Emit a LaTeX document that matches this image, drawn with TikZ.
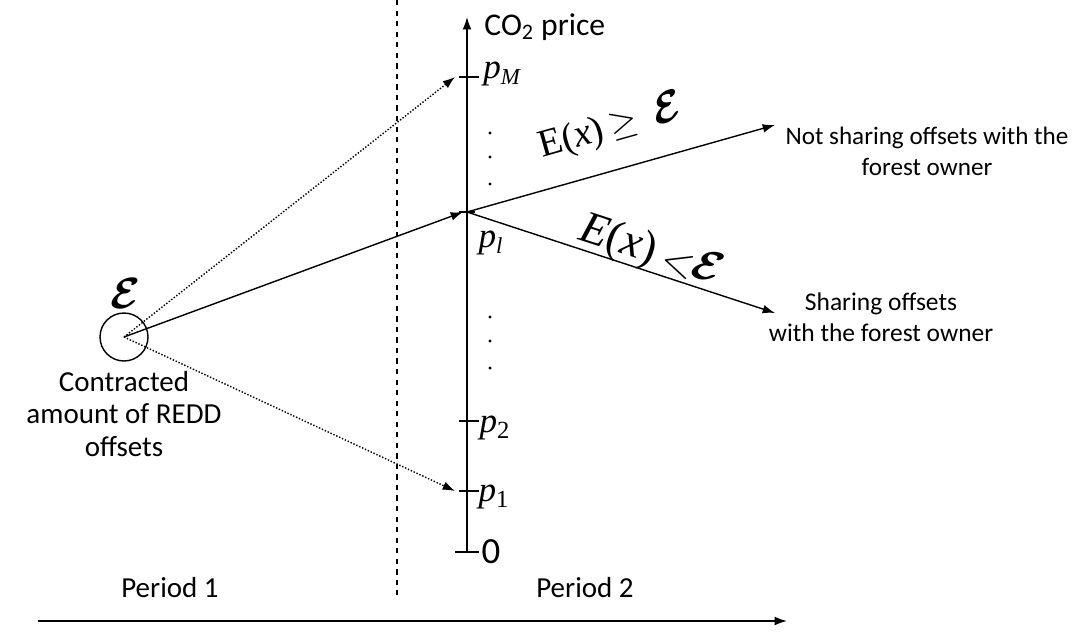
\documentclass[tikz,border=0pt]{standalone}
\usepackage{amsmath,amssymb}
\usepackage{fontspec}
\setmainfont{Carlito}
\newfontfamily\tms{Liberation Serif}
\usetikzlibrary{arrows.meta,positioning}

\begin{document}
\begin{tikzpicture}[
    x=0.02cm, y=-0.02cm,
    line width=0.8pt,
    >={Latex[length=7pt,width=5pt]},
    every node/.style={inner sep=1pt},
    lbl/.style={font=\fontsize{15}{18}\selectfont,align=center},
    plbl/.style={font=\fontsize{20}{22}\selectfont\tms\itshape},
    dot/.style={circle,fill=black,inner sep=0.7pt}
]
    \useasboundingbox (0,0) rectangle (1075,632);
    % price axis
    \coordinate (zero) at (467,552);
    \coordinate (top) at (467,17);
    \coordinate (p1) at (467,491);
    \coordinate (p2) at (467,421);
    \coordinate (pl) at (467,212);
    \coordinate (pM) at (467,77);
    \draw[->] (zero) -- (top);
    \node[lbl,font=\fontsize{18}{20}\selectfont,anchor=west] (co2) at (482,27) {CO\textsubscript{2} price};
    \draw (zero) +(-12,0) -- +(12,0);
    \draw (p1) +(-8,0) -- +(12,0);
    \draw (p2) +(-8,0) -- +(12,0);
    \draw (pl) +(-8,0) -- +(8,0);
    \draw (pM) +(-8,0) -- +(12,0);
    \node[plbl] (lM) at (502,74) {p\textsubscript{\fontsize{13}{14}\selectfont M}};
    \node[plbl] (ll) at (491,243) {p\textsubscript{\fontsize{13}{14}\selectfont l}};
    \node[plbl] (l2) at (495,428) {p\textsubscript{\upshape 2}};
    \node[plbl] (l1) at (494,497) {p\textsubscript{\upshape 1}};
    \node[font=\fontsize{21}{23}\selectfont] (l0) at (491,552) {0};
    \foreach \y in {133,157,184,317,341,368}
        \node[dot] at (490,\y) {};
    % period split
    \draw[dashed] (397,0) -- (397,595);
    \coordinate (tstart) at (38,621);
    \coordinate (tend) at (787,621);
    \draw[->] (tstart) -- (tend);
    \node[lbl,font=\fontsize{16.5}{18}\selectfont] (per1) at (170,588) {Period 1};
    \node[lbl,font=\fontsize{16.5}{18}\selectfont] (per2) at (585,588) {Period 2};
    % contract
    \node[circle,draw,minimum size=0.96cm,inner sep=0pt] (eps) at (124,337) {};
    \node[font=\fontsize{30}{32}\selectfont] (epslbl) at (126,293) {$\boldsymbol{\mathcal{E}}$};
    \node[lbl,font=\fontsize{16.5}{18.5}\selectfont,below=0.14cm of eps] (contr) {Contracted\\amount of REDD\\offsets};
    \draw[->] (eps.center) -- ([xshift=-0.08cm]pl);
    \draw[->,densely dotted] (eps.center) -- ([xshift=-0.24cm]pM);
    \draw[->,densely dotted] (eps.center) -- ([xshift=-0.24cm]p1);
    % outcomes
    \node[lbl,font=\fontsize{14.3}{17.5}\selectfont] (notshare) at (927,151) {Not sharing offsets with the\\forest owner};
    \node[lbl,font=\fontsize{14.5}{17.5}\selectfont] (share) at (881,317) {Sharing offsets\\with the forest owner};
    \coordinate (nsend) at (775,125);
    \coordinate (send) at (775,313);
    \draw[->] (pl) -- (nsend);
    \draw[->] (pl) -- (send);
    \node[rotate=15.7,font=\fontsize{22}{24}\selectfont] (geq) at (611,127)
        {{\tms E(\textit{x})}\,$\geq$\ \ {\fontsize{30}{32}\selectfont$\boldsymbol{\mathcal{E}}$}};
    \node[rotate=-18,font=\fontsize{26}{28}\selectfont] (less) at (651,252)
        {{\tms\itshape E}{\tms(\textit{x})}\,\raisebox{-2pt}{$<$}\hspace{-1pt}{\fontsize{40}{42}\selectfont$\boldsymbol{\mathcal{E}}$}};
\end{tikzpicture}
\end{document}
